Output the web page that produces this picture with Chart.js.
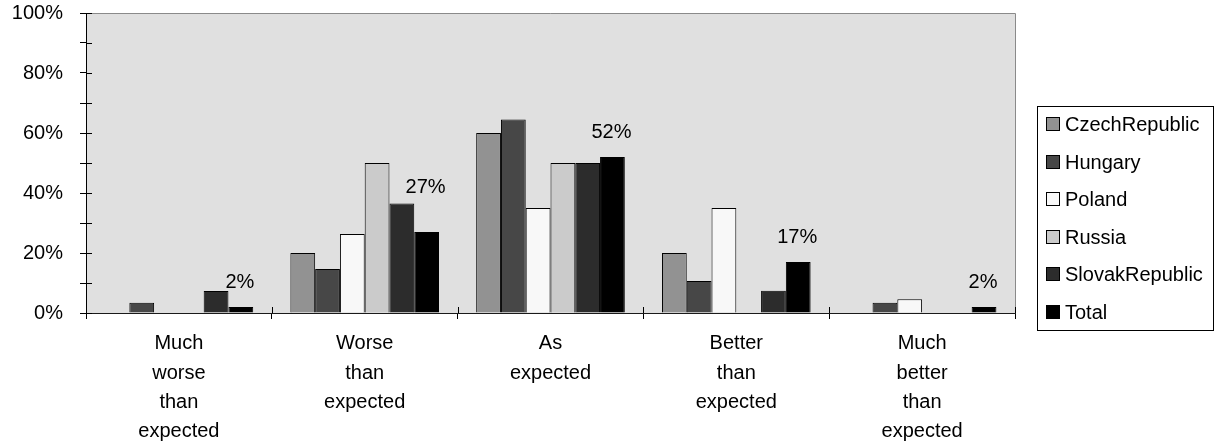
<!DOCTYPE html>
<html>
<head>
<meta charset="utf-8">
<script src="https://cdn.jsdelivr.net/npm/chart.js@4.4.1/dist/chart.umd.min.js"></script>
<style>
  html, body { margin: 0; padding: 0; background: #ffffff; }
  canvas { display: block; }
</style>
</head>
<body>
<canvas id="chart" width="1221" height="445"></canvas>
<script>
// Outcome categories (multi-line axis labels)
const categories = [
  ['Much', 'worse', 'than', 'expected'],
  ['Worse', 'than', 'expected'],
  ['As', 'expected'],
  ['Better', 'than', 'expected'],
  ['Much', 'better', 'than', 'expected']
];

// Share of answers per country, in percent
const czechRepublic  = [0, 20, 60, 20, 0];
const hungary        = [3.4, 14.7, 64.5, 10.7, 3.4];
const poland         = [0, 26.3, 35, 35, 4.6];
const russia         = [0, 50, 50, 0, 0];
const slovakRepublic = [7.3, 36.5, 50, 7.4, 0];
const total          = [2, 27, 52, 17, 2];

const seriesNames = ['CzechRepublic', 'Hungary', 'Poland', 'Russia', 'SlovakRepublic', 'Total'];
const yTickLabels = ['0%', '20%', '40%', '60%', '80%', '100%'];

const FONT_FAMILY = '"Liberation Sans", Arial, Helvetica, sans-serif';
const FONT_SIZE = 20;
const seriesValues = [czechRepublic, hungary, poland, russia, slovakRepublic, total];
const seriesColors = ['#929292', '#474747', '#f8f8f8', '#cbcbcb', '#2c2c2c', '#000000'];

// Grey plot area, frame and tick marks that cross the axis lines
const plotFrame = {
  id: 'plotFrame',
  beforeDraw(chart) {
    const { ctx, chartArea: a } = chart;
    ctx.save();
    ctx.fillStyle = '#e0e0e0';
    ctx.fillRect(a.left, a.top, a.width, a.height);
    ctx.restore();
  },
  afterDraw(chart) {
    const { ctx, chartArea: a, scales: { x, y } } = chart;
    ctx.save();
    ctx.lineWidth = 1;
    ctx.strokeStyle = '#8a8a8a';
    ctx.beginPath();
    ctx.moveTo(a.left, Math.round(a.top) + 0.5);
    ctx.lineTo(Math.round(a.right) + 0.5, Math.round(a.top) + 0.5);
    ctx.lineTo(Math.round(a.right) + 0.5, a.bottom);
    ctx.stroke();

    // inner halves of the tick marks
    ctx.strokeStyle = '#000000';
    ctx.beginPath();
    y.ticks.forEach((t) => {
      const py = Math.round(y.getPixelForValue(t.value)) + 0.5;
      ctx.moveTo(a.left, py);
      ctx.lineTo(a.left + 6, py);
    });
    for (let i = 0; i <= categories.length; i++) {
      const px = Math.round(x.getPixelForValue(i - 0.5)) + 0.5;
      ctx.moveTo(px, a.bottom);
      ctx.lineTo(px, a.bottom - 6);
    }
    ctx.stroke();
    ctx.restore();
  }
};

// Value labels above the "Total" bars; the second one sits higher so it
// clears the neighbouring SlovakRepublic bar
const totalLabels = {
  id: 'totalLabels',
  afterDatasetsDraw(chart, args, opts) {
    const { ctx } = chart;
    const idx = seriesNames.indexOf('Total');
    const meta = chart.getDatasetMeta(idx);
    const values = chart.data.datasets[idx].data;
    ctx.save();
    ctx.font = FONT_SIZE + 'px ' + FONT_FAMILY;
    ctx.fillStyle = '#000000';
    ctx.textAlign = 'center';
    ctx.textBaseline = 'middle';
    meta.data.forEach((bar, i) => {
      const lift = opts.lift[i];
      ctx.fillText(Math.round(values[i]) + '%', bar.x - 1, bar.y - lift);
    });
    ctx.restore();
  }
};

// Boxed legend on the right
const boxedLegend = {
  id: 'boxedLegend',
  afterDraw(chart) {
    const { ctx } = chart;
    const datasets = chart.data.datasets;
    const left = 1037, top = 106, width = 176, height = 224;
    const rowStart = 124, rowStep = 37.6;
    ctx.save();
    ctx.lineWidth = 1;
    ctx.strokeStyle = '#000000';
    ctx.strokeRect(left + 0.5, top + 0.5, width, height);
    ctx.font = FONT_SIZE + 'px ' + FONT_FAMILY;
    ctx.textAlign = 'left';
    ctx.textBaseline = 'middle';
    datasets.forEach((ds, i) => {
      const cy = Math.round(rowStart + i * rowStep);
      ctx.fillStyle = ds.backgroundColor;
      ctx.fillRect(left + 9, cy - 7, 14, 14);
      ctx.strokeStyle = '#000000';
      ctx.strokeRect(left + 9.5, cy - 6.5, 13, 13);
      ctx.fillStyle = '#000000';
      ctx.fillText(ds.label, left + 28, cy + 1);
    });
    ctx.restore();
  }
};

new Chart(document.getElementById('chart'), {
  type: 'bar',
  data: {
    labels: categories,
    datasets: seriesNames.map((name, i) => ({
      label: name,
      data: seriesValues[i],
      backgroundColor: seriesColors[i],
      borderColor: '#000000',
      borderWidth: 1,
      barPercentage: 1,
      categoryPercentage: 0.8
    }))
  },
  options: {
    responsive: false,
    animation: false,
    devicePixelRatio: 1,
    layout: { padding: { top: 13, right: 206, bottom: 0, left: 0 } },
    plugins: {
      legend: { display: false },
      tooltip: { enabled: false },
      totalLabels: { lift: [25, 45, 25, 25, 25] }
    },
    scales: {
      x: {
        grid: { display: true, drawOnChartArea: false, drawTicks: true, tickLength: 6, color: '#000000', offset: true },
        border: { display: true, color: '#1a1a1a', width: 1 },
        ticks: {
          color: '#000000',
          font: { family: FONT_FAMILY, size: FONT_SIZE, lineHeight: 1.47 },
          padding: 10,
          maxRotation: 0,
          autoSkip: false
        },
        afterFit(scale) {
          scale.height = 132;
          scale.paddingLeft = 0;
          scale.paddingRight = 0;
        }
      },
      y: {
        min: 0,
        max: 100,
        grid: { display: true, drawOnChartArea: false, drawTicks: true, tickLength: 6, color: '#000000' },
        border: { display: true, color: '#000000', width: 1 },
        ticks: {
          stepSize: 10,
          color: '#000000',
          font: { family: FONT_FAMILY, size: FONT_SIZE },
          padding: 17,
          callback: (v) => (v % 20 === 0 ? yTickLabels[v / 20] : '')
        },
        afterFit(scale) {
          scale.width = 86;
          scale.paddingTop = 0;
          scale.paddingBottom = 0;
        }
      }
    }
  },
  plugins: [plotFrame, totalLabels, boxedLegend]
});
</script>
</body>
</html>
